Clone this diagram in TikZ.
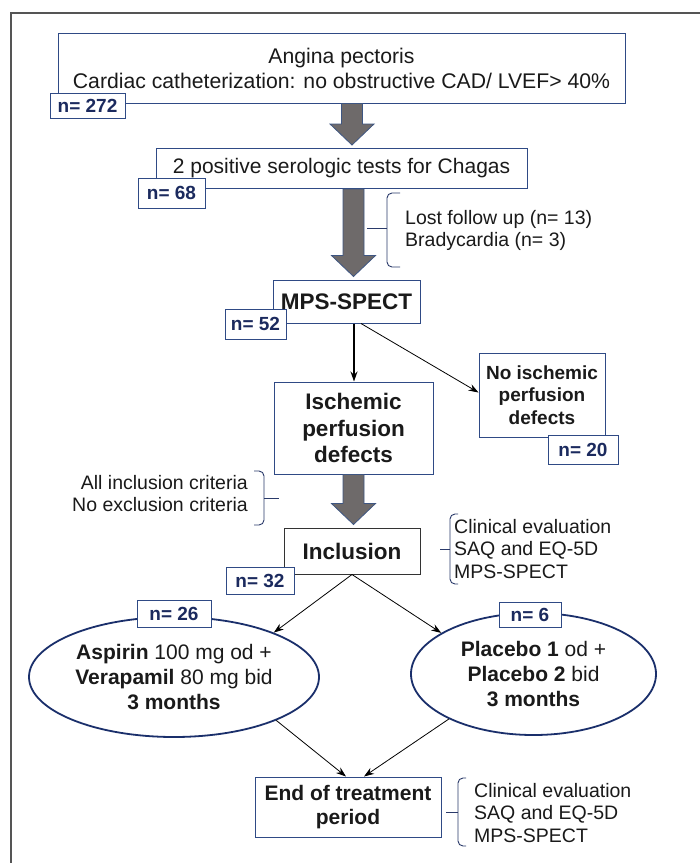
\documentclass[tikz,border=0pt]{standalone}
\usepackage{fontspec}
\setmainfont{Liberation Sans}
\usetikzlibrary{calc,arrows.meta,shapes.geometric}
\definecolor{boxblue}{HTML}{2F4A85}
\definecolor{navy}{HTML}{1B2A5E}
\definecolor{ellblue}{HTML}{1A2F6B}
\definecolor{arrgray}{HTML}{6E6A6A}
\definecolor{arredge}{HTML}{3E5682}
\definecolor{framegray}{HTML}{555555}
\definecolor{txt}{HTML}{1A1A1A}
\definecolor{bracecol}{HTML}{2A3A6A}
\newcommand\fatarrow[3]{%
  \path[draw=arredge, fill=arrgray, line width=0.8pt] let \p1=(#2), \p2=(#3) in
    ({#1pt-10.5pt},\y1) -- ({#1pt+10.5pt},\y1) -- ({#1pt+10.5pt},\y2+24pt)
    -- ({#1pt+22pt},\y2+24pt) -- ({#1pt},\y2+3pt) -- ({#1pt-22pt},\y2+24pt)
    -- ({#1pt-10.5pt},\y2+24pt) -- cycle;}
\newcommand\mybrace[6]{% spine x, top y, bottom y, mid y, hook length, tip x
  \draw[bracecol, line width=0.9pt, rounded corners=5pt]
    ({#1+#5},#2) -- (#1,#2) -- (#1,#3) -- ({#1+#5},#3);
  \draw[bracecol, line width=0.9pt] (#1,#4) -- (#6,#4);}
\begin{document}
\begin{tikzpicture}[x=1pt,y=-1pt,
  box/.style={draw=boxblue, line width=1pt, fill=white, rectangle, inner sep=0pt, align=center, text=txt},
  nbox/.style={draw=boxblue, line width=1pt, fill=white, rectangle, inner sep=0pt, text=navy,
     font=\fontsize{19}{22}\selectfont\bfseries},
  ell/.style={draw=ellblue, line width=1.8pt, fill=white, ellipse, inner sep=0pt, align=center, text=txt,
     font=\fontsize{21}{25}\selectfont},
  thinarr/.style={-{Stealth[length=10pt,width=7pt]}, line width=0.8pt, black},
  side/.style={inner sep=0pt, text=txt, font=\fontsize{19.5}{22.5}\selectfont}
]
\useasboundingbox (0,0) rectangle (700,863);
\fill[white] (0,0) rectangle (700,863);
\draw[framegray, line width=1.3pt] (11,863) -- (11,13) -- (700,13);

% main boxes
\node[box, minimum width=567pt, minimum height=70pt, font=\fontsize{21.2}{25}\selectfont] (top) at (341.5,68)
  {Angina pectoris\\Cardiac catheterization: no obstructive CAD/ LVEF> 40\%};
\node[box, minimum width=371pt, minimum height=40pt, font=\fontsize{21}{25}\selectfont] (sero) at (341.5,168.5)
  {2 positive serologic tests for Chagas};
\node[box, minimum width=147pt, minimum height=43pt, font=\fontsize{22.5}{26}\selectfont\bfseries] (mps) at (346.5,301.5)
  {MPS-SPECT};
\node[box, minimum width=159pt, minimum height=92pt, font=\fontsize{22.5}{26.5}\selectfont\bfseries] (isch) at (353.5,428)
  {Ischemic\\perfusion\\defects};
\node[box, minimum width=126pt, minimum height=84pt, font=\fontsize{19}{22.5}\selectfont\bfseries] (noisch) at (542,395)
  {No ischemic\\perfusion\\defects};
\node[box, draw=black!80, minimum width=136pt, minimum height=46pt, font=\fontsize{22.5}{26}\selectfont\bfseries] (incl) at (352,551)
  {Inclusion};
\node[ell, minimum width=290pt, minimum height=120pt] (aspirin) at (174,677)
  {\textbf{Aspirin} 100 mg od +\\\textbf{Verapamil} 80 mg bid\\\textbf{3 months}};
\node[ell, minimum width=245pt, minimum height=122pt] (placebo) at (533.5,674)
  {\textbf{Placebo 1} od +\\\textbf{Placebo 2} bid\\\textbf{3 months}};
\node[box, minimum width=186pt, minimum height=60pt, font=\fontsize{21}{23.5}\selectfont\bfseries] (endt) at (348,807)
  {End of treatment\\period};

% n= labels
\node[nbox, minimum width=75pt, minimum height=25pt] (n272) at (87.5,105.5) {n= 272};
\node[nbox, minimum width=67pt, minimum height=30pt] (n68) at (171.5,193) {n= 68};
\node[nbox, minimum width=61pt, minimum height=30pt] (n52) at (255.5,324) {n= 52};
\node[nbox, minimum width=70pt, minimum height=29pt] (n20) at (583,449.5) {n= 20};
\node[nbox, minimum width=68pt, minimum height=27pt] (n32) at (260,580.5) {n= 32};
\node[nbox, minimum width=74pt, minimum height=27pt] (n26) at (174,613.5) {n= 26};
\node[nbox, minimum width=62pt, minimum height=25pt] (n6) at (530,614.5) {n= 6};

% fat arrows
\fatarrow{352}{top.south}{sero.north}
\fatarrow{353.5}{sero.south}{mps.north}
\fatarrow{353.5}{isch.south}{incl.north}

% thin arrows
\draw[thinarr, line width=1.5pt] ($(mps.south)+(7.5,0)$) -- ($(isch.north)+(0.5,0)$);
\draw[thinarr] ($(mps.south)+(14.5,0)$) -- ($(noisch.north west)+(0,40)$);
\draw[thinarr] (incl.south) -- (aspirin.24);
\draw[thinarr] (incl.south) -- (placebo.156);
\draw[thinarr] (aspirin.-23) -- ($(endt.north)+(-2,0)$);
\draw[thinarr] (placebo.-152) -- ($(endt.north)+(16,0)$);

% braces and side notes
\mybrace{387}{193}{267}{228}{13}{367}
\node[side, anchor=west, align=left] (lost) at (405,230.5) {Lost follow up (n= 13)\\Bradycardia (n= 3)};
\mybrace{264}{471}{525}{498}{-10}{279}
\node[side, anchor=east, align=right] (crit) at (248,493.5) {All inclusion criteria\\No exclusion criteria};
\mybrace{450}{514}{584}{549}{8}{440}
\node[side, anchor=west, align=left] (eval1) at (454,549) {Clinical evaluation\\SAQ and EQ-5D\\MPS-SPECT};
\mybrace{458}{778}{846}{812}{8}{446}
\node[side, anchor=west, align=left] (eval2) at (474,813) {Clinical evaluation\\SAQ and EQ-5D\\MPS-SPECT};
\end{tikzpicture}
\end{document}
